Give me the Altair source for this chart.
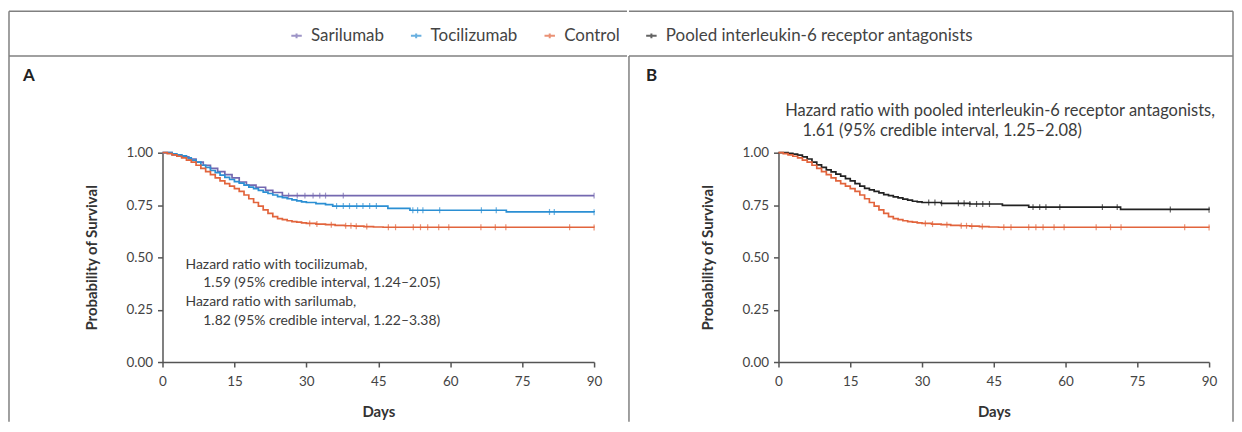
import altair as alt
import pandas as pd

# ---------------- data ----------------
SERIES = ["Sarilumab", "Tocilizumab", "Control", "Pooled interleukin-6 receptor antagonists"]
COLORS = ["#7468b0", "#2b8fd3", "#e2643c", "#222222"]

ctrl_days = [0, 1, 2, 3, 4, 5, 6, 7, 8, 9, 10, 11, 12, 13, 14, 15, 16, 17, 18, 19, 20,
             21, 22, 23, 24, 25, 26, 27, 28, 29, 30, 32, 34, 36, 38, 40, 42, 44, 46, 90]
ctrl_surv = [1.000, 0.996, 0.990, 0.983, 0.975, 0.965, 0.955, 0.940, 0.925, 0.910, 0.895,
             0.880, 0.865, 0.852, 0.840, 0.828, 0.815, 0.798, 0.780, 0.762, 0.745, 0.727,
             0.710, 0.695, 0.685, 0.680, 0.675, 0.671, 0.668, 0.665, 0.662, 0.659, 0.656,
             0.653, 0.651, 0.649, 0.647, 0.645, 0.644, 0.643]
ctrl_cens = [30.7, 32.2, 35.2, 38.2, 39.3, 40.4, 42.6, 47.1, 48.6, 52.3, 53.8, 55.3, 57.6,
             59.7, 66.4, 69.4, 71.6, 84.9, 90]

toci_days = [0, 1, 2, 3, 4, 5, 6, 7, 8, 9, 10, 11, 12, 13, 14, 15, 16, 17, 18, 19, 20, 21,
             22, 23, 24, 25, 26, 27, 28, 29, 30, 32, 34, 35.5, 47, 51.6, 71.7, 90]
toci_surv = [1.000, 1.000, 0.995, 0.990, 0.985, 0.975, 0.965, 0.955, 0.940, 0.930, 0.915,
             0.905, 0.893, 0.882, 0.872, 0.862, 0.855, 0.845, 0.836, 0.828, 0.820, 0.812,
             0.805, 0.798, 0.790, 0.785, 0.780, 0.775, 0.770, 0.765, 0.762, 0.757, 0.752,
             0.745, 0.734, 0.725, 0.717, 0.716]
toci_cens = [36.3, 37.7, 39.0, 40.5, 41.8, 43.2, 44.6, 52.2, 53.2, 54.3, 57.8, 66.5, 69.6,
             80.7, 81.7, 90]

sari_days = [0, 2, 4, 5.5, 7, 8.5, 10, 11.5, 13, 14.5, 16, 17.5, 19.5, 21.5, 23, 25, 90]
sari_surv = [1.000, 0.990, 0.980, 0.970, 0.955, 0.940, 0.925, 0.910, 0.895, 0.880, 0.860,
             0.845, 0.835, 0.820, 0.810, 0.795, 0.795]
sari_cens = [26.3, 28.1, 29.7, 31.4, 32.8, 34.0, 37.7, 90]

pool_days = [0, 1, 2, 3, 4, 5, 6, 7, 8, 9, 10, 11, 12, 13, 14, 15, 16, 17, 18, 19, 20, 21,
             22, 23, 24, 25, 26, 27, 28, 29, 30, 34, 40, 46.8, 52.3, 71.5, 90]
pool_surv = [1.000, 1.000, 0.997, 0.993, 0.988, 0.980, 0.970, 0.955, 0.942, 0.930, 0.918,
             0.908, 0.898, 0.888, 0.876, 0.865, 0.852, 0.840, 0.830, 0.822, 0.815, 0.808,
             0.800, 0.795, 0.789, 0.784, 0.778, 0.773, 0.768, 0.765, 0.762, 0.758, 0.755,
             0.748, 0.740, 0.729, 0.727]
pool_cens = [31.4, 32.7, 34.1, 37.6, 38.8, 40.0, 41.4, 42.7, 44.1, 53.2, 54.6, 55.9, 58.8,
             67.7, 70.8, 81.9, 90]

ticks_x = [0, 15, 30, 45, 60, 75, 90]
ticks_y = [0.0, 0.25, 0.5, 0.75, 1.0]

notes_a = ["Hazard ratio with tocilizumab,", "1.59 (95% credible interval, 1.24\u20132.05)",
           "Hazard ratio with sarilumab,", "1.82 (95% credible interval, 1.22\u20133.38)"]
notes_a_day = [4.8, 8.5, 4.8, 8.5]
notes_a_surv = [0.462, 0.376, 0.286, 0.196]
notes_b = ["Hazard ratio with pooled interleukin-6 receptor antagonists,",
           "1.61 (95% credible interval, 1.25\u20132.08)"]
notes_b_day = [1.4, 5.0]
notes_b_surv = [1.197, 1.103]

# ---------------- helpers ----------------
FONT = "Lato"


def curve(name, days, surv):
    return pd.DataFrame({"series": name, "day": days, "surv": surv})


def censor(name, days, surv, cens):
    vals = []
    for t in cens:
        idx = max(i for i, d in enumerate(days) if d <= t)
        vals.append(surv[idx])
    return pd.DataFrame({"series": name, "day": cens, "surv": vals})


color = alt.Color(
    "series:N",
    scale=alt.Scale(domain=SERIES, range=COLORS),
    legend=alt.Legend(
        title=None, orient="none", direction="horizontal", legendX=126, legendY=-126,
        symbolType="M-1,0L1,0M0,-0.45L0,0.45", symbolSize=110, symbolStrokeWidth=2,
        labelFont=FONT, labelFontSize=17, labelColor="#444", columnPadding=22,
        labelOffset=6, padding=0, labelLimit=0,
    ),
)

X = alt.X("day:Q", scale=alt.Scale(domain=[0, 90], nice=False),
          axis=alt.Axis(values=ticks_x, title="Days", labelFlush=False))
Y = alt.Y("surv:Q", scale=alt.Scale(domain=[0, 1], nice=False),
          axis=alt.Axis(values=ticks_y, format=".2f", title="Probability of Survival"))

FRAME = "#808080"


def frame_rule(x, x2, y, y2):
    return alt.Chart(pd.DataFrame({"k": [0]})).mark_rule(
        color=FRAME, strokeWidth=1.5, strokeCap="butt"
    ).encode(x=alt.value(x), x2=alt.value(x2), y=alt.value(y), y2=alt.value(y2))


def panel_label(txt, x):
    return alt.Chart(pd.DataFrame({"k": [0]})).mark_text(
        text=txt, font=FONT, fontSize=17, fontWeight="bold", color="#222", align="left",
        baseline="middle"
    ).encode(x=alt.value(x), y=alt.value(-77))


def panel(curves, cens, notes, label, frames, width, note_size):
    line = alt.Chart(curves).mark_line(interpolate="step-after", strokeWidth=1.7).encode(
        x=X, y=Y, color=color, detail="series:N")
    tk = alt.Chart(cens).mark_tick(orient="vertical", size=6, thickness=1.2).encode(
        x=X, y=Y, color=color)
    txt = alt.Chart(notes).mark_text(align="left", baseline="middle", font=FONT,
                                     fontSize=note_size, color="#3c3c3c").encode(
        x=X, y=Y, text="text:N")
    layers = [line, tk, txt, panel_label(label[0], label[1])] + [frame_rule(*f) for f in frames]
    return alt.layer(*layers).properties(width=width, height=210)


curves_a = pd.concat([curve(SERIES[0], sari_days, sari_surv),
                      curve(SERIES[1], toci_days, toci_surv),
                      curve(SERIES[2], ctrl_days, ctrl_surv)])
cens_a = pd.concat([censor(SERIES[0], sari_days, sari_surv, sari_cens),
                    censor(SERIES[1], toci_days, toci_surv, toci_cens),
                    censor(SERIES[2], ctrl_days, ctrl_surv, ctrl_cens)])
curves_b = pd.concat([curve(SERIES[3], pool_days, pool_surv),
                      curve(SERIES[2], ctrl_days, ctrl_surv)])
cens_b = pd.concat([censor(SERIES[3], pool_days, pool_surv, pool_cens),
                    censor(SERIES[2], ctrl_days, ctrl_surv, ctrl_cens)])
notes_df_a = pd.DataFrame({"day": notes_a_day, "surv": notes_a_surv, "text": notes_a})
notes_df_b = pd.DataFrame({"day": notes_b_day, "surv": notes_b_surv, "text": notes_b})

# frame around the figure: outer box, legend separator and the panel divider
frames_a = [(-154, 466, -142, -142), (-154, 466, -97, -97), (-154, -154, -142, 270)]
frames_b = [(-150, 456, -142, -142), (-150, 456, -97, -97), (-150, -150, -97, 270),
            (456, 456, -142, 270)]

pa = panel(curves_a, cens_a, notes_df_a, ("A", -140), frames_a, 433, 14)
pb = panel(curves_b, cens_b, notes_df_b, ("B", -133), frames_b, 432, 16.5)

chart = alt.hconcat(pa, pb, spacing=0).resolve_scale(color="shared").properties(
    padding={"left": 0, "top": 1.5, "right": 0, "bottom": 0}
).configure_view(stroke=None).configure_axis(
    grid=False, domainColor="#555", domainWidth=1.5, tickColor="#555", tickWidth=1.5,
    tickSize=5, labelColor="#444", labelFont=FONT, labelFontSize=13.5,
    titleFont=FONT, titleFontSize=15, titleFontWeight="bold", titleColor="#333",
).configure_axisX(titlePadding=16, labelPadding=8).configure_axisY(
    titlePadding=27, labelPadding=5)

chart.save("out.html", embed_options={"renderer": "svg", "actions": False})
